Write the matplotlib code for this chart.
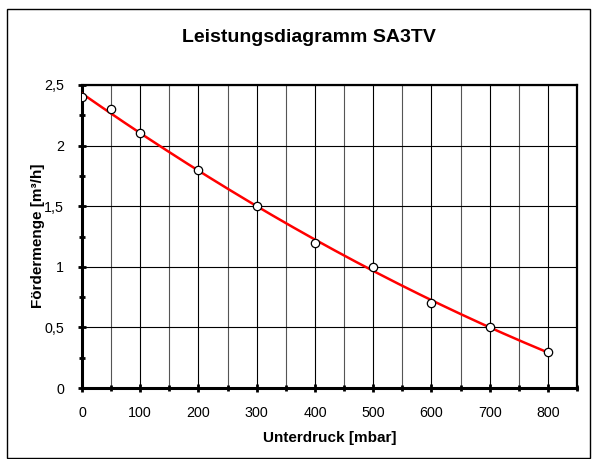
"""Leistungsdiagramm SA3TV - Excel style chart recreated with matplotlib."""

import matplotlib
matplotlib.use("Agg")
import matplotlib.pyplot as plt
import numpy as np
from matplotlib.patches import Rectangle
from matplotlib.ticker import MultipleLocator, FuncFormatter

# measured points
unterdruck = [0, 50, 100, 200, 300, 400, 500, 600, 700, 800]
foerdermenge = [2.4, 2.3, 2.1, 1.8, 1.5, 1.2, 1.0, 0.7, 0.5, 0.3]

title = "Leistungsdiagramm SA3TV"
xlabel = "Unterdruck [mbar]"
ylabel = "Fördermenge [m³/h]"

plt.rcParams["font.family"] = ["Liberation Sans", "DejaVu Sans"]

W, H = 592, 459
fig = plt.figure(figsize=(W / 100, H / 100), dpi=100)
# outer chart border
fig.patches.append(Rectangle((6.5 / W, 1 / H), 583.5 / W, 449.5 / H,
                             transform=fig.transFigure, fill=False,
                             edgecolor="black", linewidth=1.0))

ax = fig.add_axes([82 / W, 71 / H, 495 / W, 303 / H])

# trendline (2nd order polynomial like Excel)
coef = np.polyfit(unterdruck, foerdermenge, 2)
xs = np.linspace(0, 800, 200)
ax.plot(xs, np.polyval(coef, xs), color="red", linewidth=1.8, zorder=3)
ax.plot(unterdruck, foerdermenge, linestyle="none", marker="o", markersize=6,
        markerfacecolor="white", markeredgecolor="black", markeredgewidth=0.9,
        zorder=4)

ax.set_xlim(0, 850)
ax.set_ylim(0, 2.5)
ax.xaxis.set_major_locator(MultipleLocator(100))
ax.xaxis.set_minor_locator(MultipleLocator(50))
ax.yaxis.set_major_locator(MultipleLocator(0.5))
ax.yaxis.set_minor_locator(MultipleLocator(0.25))
ax.yaxis.set_major_formatter(FuncFormatter(lambda v, p: f"{v:g}".replace(".", ",")))

ax.grid(True, which="major", axis="both", color="black", linewidth=0.8)
ax.grid(True, which="minor", axis="x", color="#555555", linewidth=0.8)
ax.set_axisbelow(True)

for side in ["left", "bottom"]:
    ax.spines[side].set_linewidth(2.2)
for side in ["right", "top"]:
    ax.spines[side].set_linewidth(1.6)

ax.tick_params(which="both", direction="inout", width=2, labelsize=10.3)
ax.tick_params(which="major", length=6)
ax.tick_params(which="minor", length=5)
ax.tick_params(axis="x", which="major", pad=10)
ax.tick_params(axis="y", which="major", pad=10)

fig.text(330 / W, 1 - 438 / H, xlabel, fontsize=11, fontweight="bold",
         ha="center", va="center")
fig.text(38 / W, 1 - 236 / H, ylabel, fontsize=11, fontweight="bold",
         ha="center", va="center", rotation=90)
fig.text(309 / W, 1 - 37 / H, title, fontsize=14, fontweight="bold",
         ha="center", va="center")

fig.savefig("out.png", dpi=100)
